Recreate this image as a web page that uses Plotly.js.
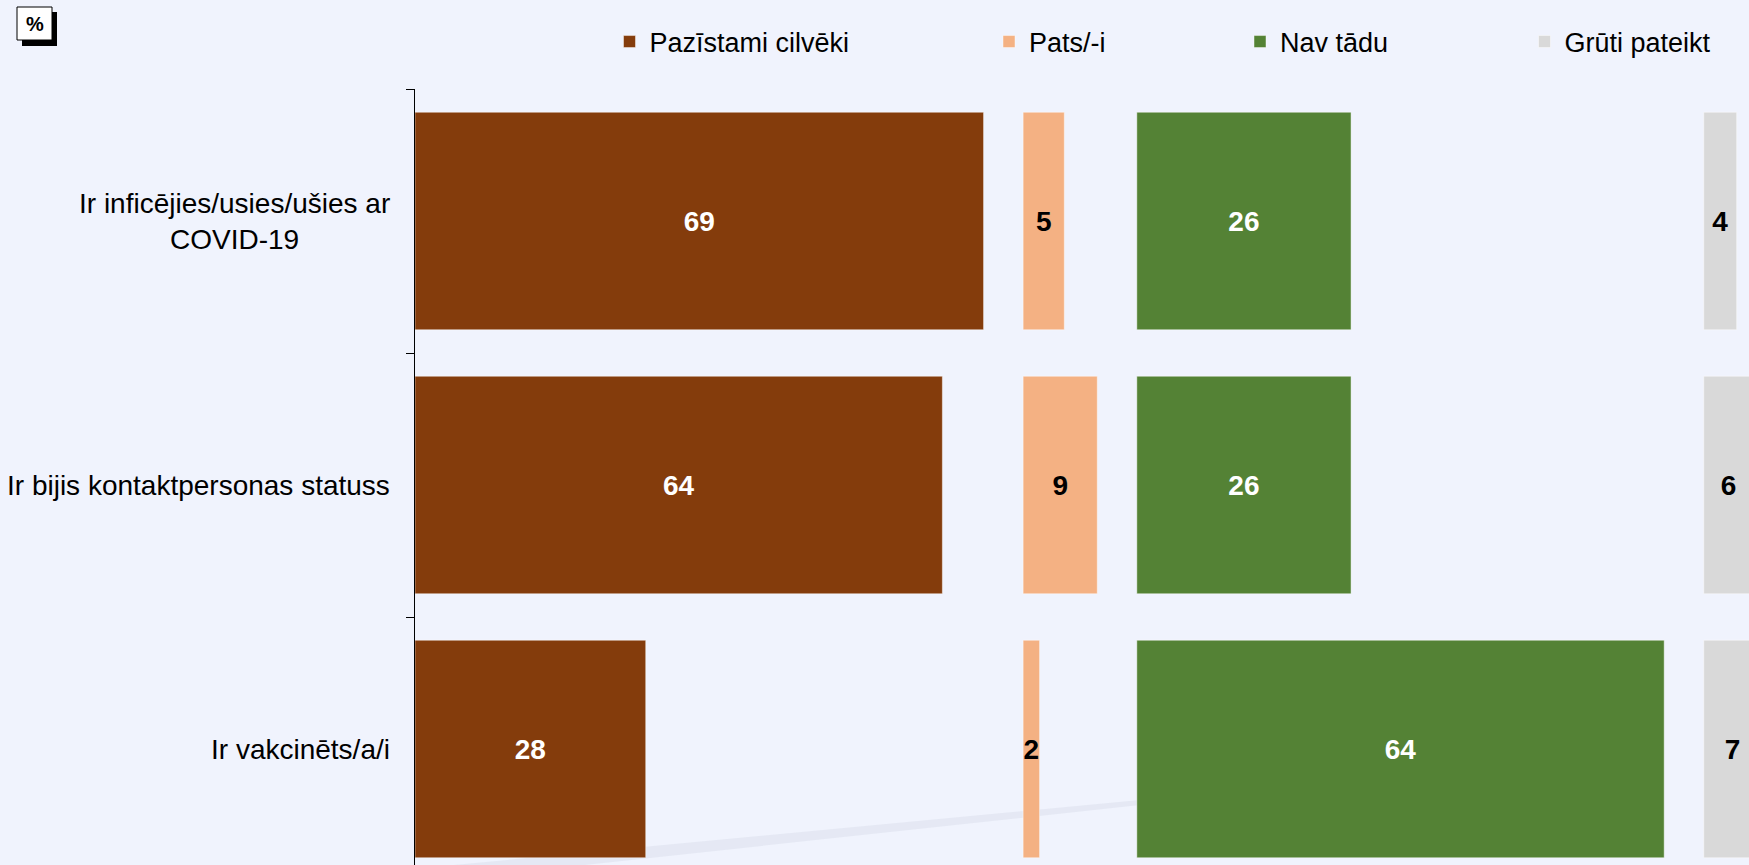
<!DOCTYPE html>
<html>
<head>
<meta charset="utf-8">
<script src="https://cdn.plot.ly/plotly-3.0.1.min.js"></script>
<style>
  html, body { margin: 0; padding: 0; background: #F0F3FD; }
  #chart { width: 1749px; height: 865px; }
</style>
</head>
<body>
<div id="chart"></div>
<script>
// ---- data ----
const categories = [
  'Ir inficējies/usies/ušies ar<br>COVID-19',
  'Ir bijis kontaktpersonas statuss',
  'Ir vakcinēts/a/i'
];
const seriesNames = ['Pazīstami cilvēki', 'Pats/-i', 'Nav tādu', 'Grūti pateikt'];
const pazistamiCilveki = [69, 64, 28];
const patsI = [5, 9, 2];
const navTadu = [26, 26, 64];
const grutiPateikt = [4, 6, 7];

// ---- styling ----
const seriesValues = [pazistamiCilveki, patsI, navTadu, grutiPateikt];
const colors = ['#843C0C', '#F4B183', '#548235', '#D9D9D9'];
const textColors = ['#FFFFFF', '#000000', '#FFFFFF', '#000000'];
const FONT = 'Liberation Sans, Arial, sans-serif';
const GAP = 4.8;           // gap between columns (in value units)
const PX_PER_UNIT = 8.24;

const W = 1749, H = 865;
const M = { l: 415, r: 0, t: 89, b: 0 };
const plotW = W - M.l - M.r, plotH = H - M.t - M.b;
const px2x = px => (px - M.l) / plotW;
const py2y = py => 1 - (py - M.t) / plotH;

// column offsets: each column starts after the previous column's max + gap
const offsets = [];
let acc = 0;
seriesValues.forEach((vals) => {
  offsets.push(acc);
  acc += Math.max(...vals) + GAP;
});

const legendCenters = [629.5, 1009, 1260, 1544.5];
const legendNames = ['legend', 'legend2', 'legend3', 'legend4'];

const traces = seriesValues.map((vals, i) => ({
  type: 'bar',
  orientation: 'h',
  name: seriesNames[i],
  y: categories,
  x: vals,
  base: vals.map(() => offsets[i]),
  text: vals.map(v => String(v)),
  textposition: 'inside',
  insidetextanchor: 'middle',
  constraintext: 'none',
  textangle: 0,
  textfont: { family: FONT, size: 28, color: textColors[i], weight: 'bold' },
  marker: { color: colors[i], line: { color: 'rgba(255,255,255,0.45)', width: 1 } },
  legend: legendNames[i],
  showlegend: true,
  hoverinfo: 'skip'
}));

const layout = {
  width: W, height: H,
  margin: M,
  showlegend: true,
  paper_bgcolor: '#F0F3FD',
  plot_bgcolor: 'rgba(0,0,0,0)',
  barmode: 'overlay',
  bargap: 0.176,
  font: { family: FONT, size: 28, color: '#000' },
  xaxis: {
    range: [0, plotW / PX_PER_UNIT],
    visible: false,
    fixedrange: true
  },
  yaxis: {
    type: 'category',
    range: [(plotH / 264) - 0.5, -0.5],
    showticklabels: false,
    ticks: 'outside',
    tickson: 'boundaries',
    ticklen: 8,
    tickcolor: '#000',
    tickwidth: 1,
    showline: true,
    linecolor: '#000',
    linewidth: 1,
    showgrid: false,
    zeroline: false,
    fixedrange: true
  },
  annotations: [],
  shapes: []
};

// legends, one per series
legendNames.forEach((ln, i) => {
  layout[ln] = {
    visible: true,
    orientation: 'h',
    x: px2x(legendCenters[i] - 20),
    xanchor: 'left',
    y: py2y(42),
    yanchor: 'middle',
    bgcolor: 'rgba(0,0,0,0)',
    borderwidth: 0,
    font: { family: FONT, size: 27, color: '#000' },
    itemwidth: 30
  };
});

// category labels
categories.forEach(c => {
  layout.annotations.push({
    text: c,
    xref: 'paper', yref: 'y',
    x: 0, y: c,
    xanchor: 'right', yanchor: 'middle',
    xshift: -23,
    align: 'center',
    showarrow: false,
    font: { family: FONT, size: 28, color: '#000' }
  });
});

// "%" box with shadow
layout.shapes.push({
  type: 'rect', xref: 'paper', yref: 'paper', layer: 'above',
  x0: px2x(22), x1: px2x(57), y0: py2y(46), y1: py2y(12),
  fillcolor: '#000', line: { width: 0 }
});
layout.shapes.push({
  type: 'rect', xref: 'paper', yref: 'paper', layer: 'above',
  x0: px2x(17), x1: px2x(52), y0: py2y(40), y1: py2y(7),
  fillcolor: '#FFFFFF', line: { color: '#000', width: 1 }
});
layout.annotations.push({
  text: '%', xref: 'paper', yref: 'paper',
  x: px2x(34.5), y: py2y(24), xanchor: 'center', yanchor: 'middle',
  showarrow: false,
  font: { family: FONT, size: 20, color: '#000', weight: 'bold' }
});

// faint decorative streak in the background
layout.shapes.push({
  type: 'path', xref: 'paper', yref: 'paper', layer: 'below',
  path: 'M' + px2x(380) + ',' + py2y(872) + ' L' + px2x(1140) + ',' + py2y(800) +
        ' L' + px2x(1140) + ',' + py2y(805) + ' L' + px2x(520) + ',' + py2y(872) + ' Z',
  fillcolor: 'rgba(215,219,232,0.45)', line: { width: 0 }
});

Plotly.newPlot('chart', traces, layout, { displayModeBar: false, staticPlot: true });
</script>
</body>
</html>
